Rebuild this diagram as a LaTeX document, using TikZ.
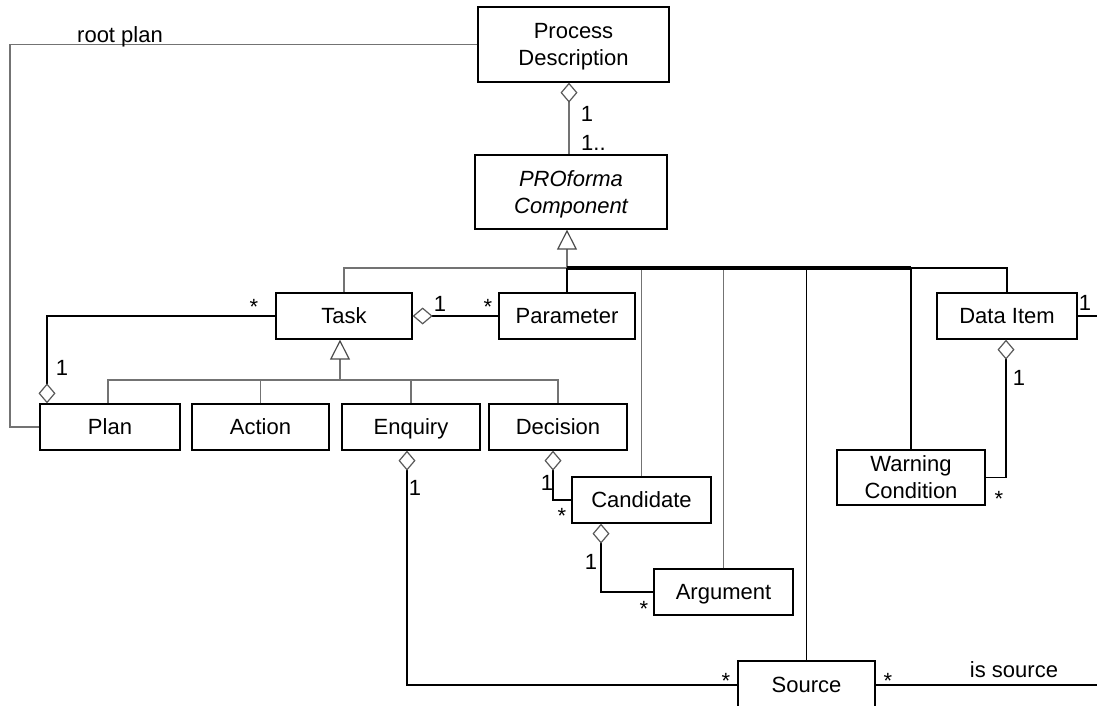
\documentclass[tikz,border=0pt]{standalone}
\usepackage{fontspec}
\setmainfont{Liberation Sans}
\usetikzlibrary{arrows.meta}
\newcommand\umlfont{\fontsize{22}{27}\selectfont}
\begin{document}
\begin{tikzpicture}[x=1pt,y=-1pt,
  cls/.style={draw=black, line width=1.3pt, fill=white, inner sep=0pt,
              align=center, font=\umlfont, text depth=0pt},
  lbl/.style={inner sep=0pt, font=\umlfont},
  gen/.style={draw=black!55, line width=1.2pt},
  assoc/.style={draw=black, line width=1.2pt},
  aggr/.style={{Diamond[open,length=20pt,width=17pt,color=black!65]}-},
  inh/.style={-{Triangle[open,length=20pt,width=20pt,color=black!70]}}]
\clip (0,0) rectangle (1097,706);

% classes
\node[cls, minimum width=191, minimum height=75] (pd) at (573.5,44.5) {Process\\Description};
\node[cls, minimum width=192, minimum height=74, font=\umlfont\itshape] (pc) at (571,192) {PROforma\\Component};
\node[cls, minimum width=136, minimum height=46] (task) at (344,316) {Task};
\node[cls, minimum width=136, minimum height=46] (param) at (567,316) {Parameter};
\node[cls, minimum width=140, minimum height=46] (data) at (1007,316) {Data Item};
\node[cls, minimum width=140, minimum height=46] (plan) at (110,427) {Plan};
\node[cls, minimum width=137, minimum height=46] (action) at (260.5,427) {Action};
\node[cls, minimum width=138, minimum height=46] (enquiry) at (411,427) {Enquiry};
\node[cls, minimum width=138, minimum height=46] (decision) at (558,427) {Decision};
\node[cls, minimum width=139, minimum height=46] (candidate) at (641.5,500) {Candidate};
\node[cls, minimum width=139, minimum height=46] (argument) at (723.5,592) {Argument};
\node[cls, minimum width=148, minimum height=55] (warning) at (911,477.5) {Warning\\Condition};
\node[cls, minimum width=137, minimum height=48] (source) at (806.5,685) {Source};

% junction points and free ends
\coordinate (bus) at (567,268);
\coordinate (tbus) at (340,380);
\coordinate (rp) at (10,427);
\coordinate (dataEnd) at (1097,316);
\coordinate (srcEnd) at (1097,685);

% root plan
\draw[gen] (pd.west) -| (rp) -- (plan.west);
\node[lbl] (lrp) at (120,37) {root plan};

% composition of the process description
\draw[gen, aggr] ([xshift=-4.5]pd.south) -- ([xshift=-2]pc.north);
\node[lbl] (m1) at (587,114) {1};
\node[lbl, anchor=west] (m2) at (581,143) {1..};

% specialisations of PROforma Component
\draw[gen, inh] (bus) -- ([xshift=-4]pc.south);
\draw[gen] (task.north) |- (data.north |- bus);
\draw[gen] (candidate.north) -- (candidate.north |- bus);
\draw[gen] (argument.north) -- (argument.north |- bus);
\draw[assoc] (param.north) -- (bus);
\draw[assoc] (source.north) -- (source.north |- bus);
\draw[assoc] (warning.north) -- (warning.north |- bus);
\draw[assoc] (data.north) |- (warning.north |- bus);
\draw[draw=black, line width=3.5pt] (bus) -- (warning.north |- bus);

% specialisations of Task
\draw[gen, inh] (tbus) -- ([xshift=-4]task.south);
\draw[gen] ([xshift=-2]plan.north) |- (decision.north |- tbus) -- (decision.north);
\draw[gen] (action.north) -- (action.north |- tbus);
\draw[gen] (enquiry.north) -- (enquiry.north |- tbus);

% Plan aggregates Tasks
\draw[assoc, aggr] ([xshift=-63]plan.north) |- (task.west);
\node[lbl] (m3) at (254,307) {*};
\node[lbl] (m4) at (62,368) {1};

% Task aggregates Parameters
\draw[assoc, aggr] (task.east) -- (param.west);
\node[lbl] (m5) at (440,304) {1};
\node[lbl] (m6) at (488,307) {*};

% Decision aggregates Candidates
\draw[assoc, aggr] ([xshift=-5]decision.south) |- (candidate.west);
\node[lbl] (m7) at (547,483) {1};
\node[lbl] (m8) at (562,516) {*};

% Candidate aggregates Arguments
\draw[assoc, aggr] ([xshift=-40.5]candidate.south) |- (argument.west);
\node[lbl] (m9) at (591,562) {1};
\node[lbl] (m10) at (644,609) {*};

% Enquiry aggregates Sources
\draw[assoc, aggr] ([xshift=-4]enquiry.south) |- (source.west);
\node[lbl] (m11) at (415,488) {1};
\node[lbl] (m12) at (726,681) {*};

% is source
\draw[assoc] (source.east) -- (srcEnd);
\node[lbl] (m13) at (888,681) {*};
\node[lbl] (lis) at (1014,670) {is source};

% Data Item aggregates Warning Conditions
\draw[assoc, aggr] ([xshift=-1]data.south) |- (warning.east);
\node[lbl] (m14) at (1019,378) {1};
\node[lbl] (m15) at (999,499) {*};

% Data Item outgoing association
\draw[assoc] (data.east) -- (dataEnd);
\node[lbl] (m16) at (1085,303) {1};
\end{tikzpicture}
\end{document}
